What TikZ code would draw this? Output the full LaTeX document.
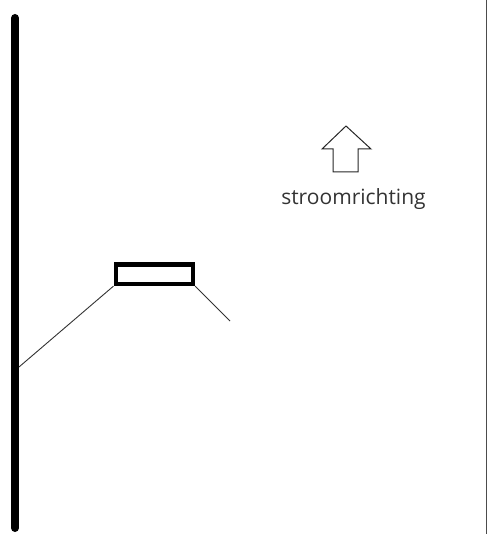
\documentclass[tikz,border=0pt]{standalone}
\usepackage{fontspec}
\setmainfont{Open Sans}
\usetikzlibrary{calc}

\begin{document}
\begin{tikzpicture}[x=1pt,y=-1pt]
    \tikzset{
        wall/.style={line width=8pt, line cap=round},
        thinline/.style={line width=0.9pt, black!80},
        plate/.style={draw, line width=4.3pt, minimum width=77.3pt, minimum height=19.5pt, inner sep=0pt, outer sep=2.15pt},
        flowarrow/.style={line width=1pt, black!85, line join=miter}
    }
    \useasboundingbox (0,0) rectangle (487,534);
    \coordinate (T) at (15,18);
    \coordinate (U) at (15,528);
    \coordinate (W) at (19,367);
    \coordinate (E) at (230,321);
    \coordinate (R1) at (486,0);
    \coordinate (R2) at (486,534);
    \draw[wall] (T) -- (U);
    \node[plate] (P) at (154.3,274.2) {};
    \draw[thinline] (W) -- (P.south west);
    \draw[thinline] (P.south east) -- (E);
    \draw[line width=1pt, black!70] (R1) -- (R2);
    % Pijl
    \coordinate (A) at (346,126);
    \draw[flowarrow] (A) -- (371,149) -- (358,149) -- (358,172) -- (333,172) -- (333,149) -- (322,149) -- cycle;
    \node[font=\fontsize{21pt}{24pt}\selectfont, text=black!80, inner sep=0pt, anchor=base] (L) at (353.5,205) {stroomrichting};
\end{tikzpicture}
\end{document}
